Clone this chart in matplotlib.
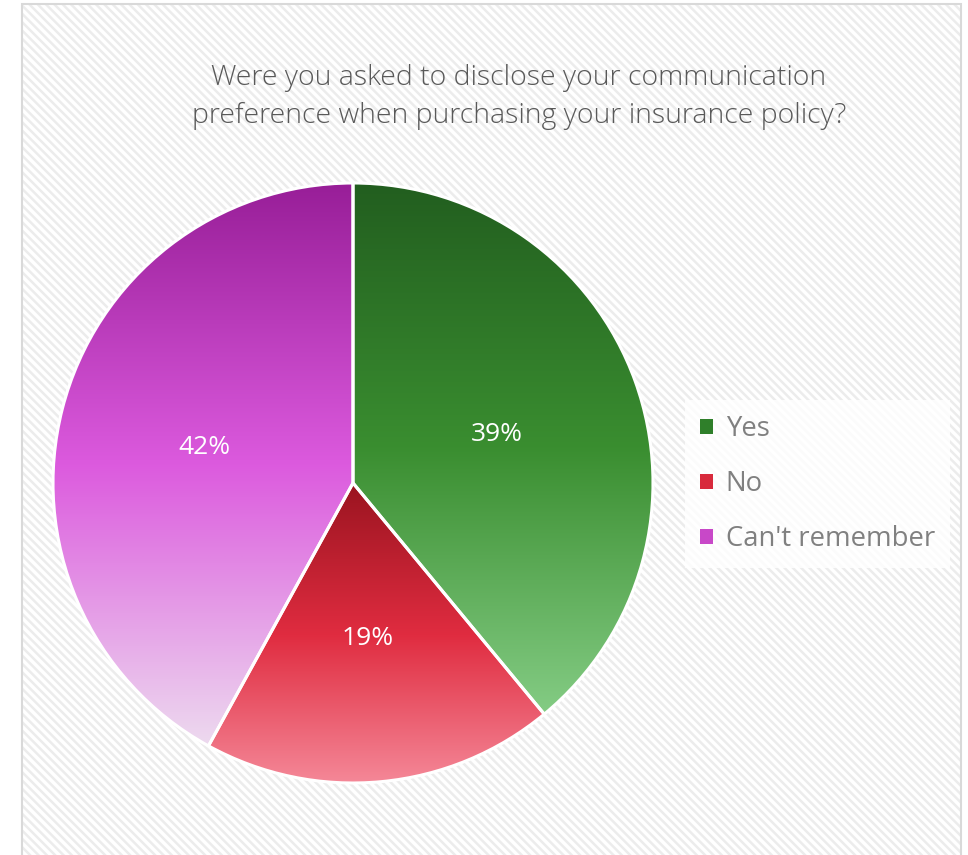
import numpy as np
import matplotlib
matplotlib.use("Agg")
import matplotlib.pyplot as plt
from matplotlib.patches import Rectangle, Patch
from matplotlib.colors import LinearSegmentedColormap

plt.rcParams['font.family'] = ['Open Sans', 'DejaVu Sans']
plt.rcParams['hatch.linewidth'] = 1.8

title = "Were you asked to disclose your communication\npreference when purchasing your insurance policy?"
categories = ["Yes", "No", "Can't remember"]
shares = [39, 19, 42]
labels = ["39%", "19%", "42%"]

# top -> middle -> bottom gradient stops for each slice
gradients = [
    ["#225e1f", "#3a8e30", "#84cc84"],
    ["#9a1420", "#e02c40", "#f58a9a"],
    ["#981e98", "#dc5ade", "#eddaef"],
]
legend_colors = ["#2f7f2a", "#d82a3c", "#c848c8"]

W, H = 968, 855
fig = plt.figure(figsize=(W / 100, H / 100), dpi=100)
fig.patch.set_facecolor("white")

# striped chart area with thin frame
bg = Rectangle((22 / W, 0), (961 - 22) / W, (H - 4) / H, transform=fig.transFigure,
               facecolor="white", edgecolor="#ececec", hatch="\\\\\\\\", linewidth=0,
               zorder=-3)
fig.patches.append(bg)
frame = Rectangle((22 / W, -0.01), (961 - 22) / W, (H - 4) / H + 0.01, transform=fig.transFigure,
                  facecolor="none", edgecolor="#d9d9d9", linewidth=1.5, zorder=-2)
fig.patches.append(frame)

fig.text(519 / W, 1 - 97 / H, title, ha="center", va="center", fontsize=20.5,
         color="#595959", linespacing=1.52, fontweight="light")

R = 303
cx, cy = 353, 483
ax = fig.add_axes([(cx - R) / W, (H - cy - R) / H, 2 * R / W, 2 * R / H])

wedges, texts = ax.pie(shares, startangle=90, counterclock=False, radius=1,
                       wedgeprops=dict(linewidth=0))
for w, stops in zip(wedges, gradients):
    w.set_facecolor("none")
    verts = w.get_path().vertices
    trans = w.get_patch_transform()
    pts = trans.transform(verts)
    y0, y1 = pts[:, 1].min(), pts[:, 1].max()
    x0, x1 = pts[:, 0].min(), pts[:, 0].max()
    cmap = LinearSegmentedColormap.from_list("g", stops)
    grad = np.linspace(0, 1, 256).reshape(-1, 1)
    im = ax.imshow(grad, cmap=cmap, aspect="auto", extent=(x0, x1, y0, y1),
                   origin="upper", zorder=1, interpolation="bilinear")
    im.set_clip_path(w)
    w.set_edgecolor("white")
    w.set_linewidth(2.2)
    w.set_zorder(2)
ax.set_xlim(-1.01, 1.01)
ax.set_ylim(-1.01, 1.01)
ax.set_aspect("equal")
ax.axis("off")
ax.patch.set_alpha(0)

# percentage labels
theta = 90.0
for s, lab in zip(shares, labels):
    mid = np.deg2rad(theta - s * 3.6 / 2)
    r = 0.51
    ax.text(r * np.cos(mid), r * np.sin(mid) - 0.01, lab, ha="center", va="center",
            fontsize=19, color="white", zorder=3)
    theta -= s * 3.6

handles = [Patch(facecolor=c, edgecolor="none") for c in legend_colors]
leg = fig.legend(handles, categories, loc="upper left",
                 bbox_to_anchor=(685 / W, 1 - 400 / H), frameon=True,
                 fontsize=19.8, labelcolor="#808080", handlelength=0.48,
                 handleheight=0.48, handletextpad=0.45, labelspacing=0.98,
                 borderpad=0.55, borderaxespad=0)
leg.get_frame().set_facecolor("white")
leg.get_frame().set_edgecolor("none")
leg.get_frame().set_boxstyle("square", pad=0)

fig.savefig("out.png", dpi=100)
